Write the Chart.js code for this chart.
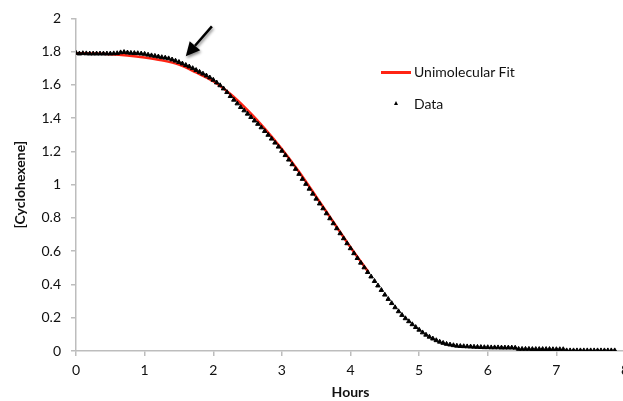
<!DOCTYPE html>
<html lang="en">
<head>
    <meta charset="UTF-8">
    <title>Cyclohexene vs Hours</title>
    <script src="https://cdn.jsdelivr.net/npm/chart.js"></script>
    <style>
        html, body { margin: 0; padding: 0; background: #fff; overflow: hidden; }
        #wrap { position: relative; width: 623px; height: 401px; overflow: hidden; }
        #chart { position: absolute; left: 0; top: 0; }
        .legend-text { position: absolute; font: 14px Lato, sans-serif; color: #111; line-height: 18px; white-space: nowrap; }
        .legend-line { position: absolute; left: 381px; top: 71px; width: 30px; height: 2.5px; background: #ff2414; }
        .legend-tri { position: absolute; left: 394px; top: 101px; width: 0; height: 0;
            border-left: 2.5px solid transparent; border-right: 2.5px solid transparent; border-bottom: 4.5px solid #000; }
    </style>
</head>
<body>
<div id="wrap">
    <canvas id="chart" width="645" height="401"></canvas>
    <div class="legend-line"></div>
    <div class="legend-text" style="left:414px; top:63px;">Unimolecular Fit</div>
    <div class="legend-tri"></div>
    <div class="legend-text" style="left:414px; top:95px;">Data</div>
</div>
<script>
    // measured points (hours, concentration)
    const dataHours = [
        0.00, 0.05, 0.10, 0.15, 0.20, 0.25, 0.30, 0.35, 0.40, 0.45,
        0.50, 0.55, 0.60, 0.65, 0.70, 0.75, 0.80, 0.85, 0.90, 0.95,
        1.00, 1.05, 1.10, 1.15, 1.20, 1.25, 1.30, 1.35, 1.40, 1.45,
        1.50, 1.55, 1.60, 1.65, 1.70, 1.75, 1.80, 1.85, 1.90, 1.95,
        2.00, 2.05, 2.10, 2.15, 2.20, 2.25, 2.30, 2.35, 2.40, 2.45,
        2.50, 2.55, 2.60, 2.65, 2.70, 2.75, 2.80, 2.85, 2.90, 2.95,
        3.00, 3.05, 3.10, 3.15, 3.20, 3.25, 3.30, 3.35, 3.40, 3.45,
        3.50, 3.55, 3.60, 3.65, 3.70, 3.75, 3.80, 3.85, 3.90, 3.95,
        4.00, 4.05, 4.10, 4.15, 4.20, 4.25, 4.30, 4.35, 4.40, 4.45,
        4.50, 4.55, 4.60, 4.65, 4.70, 4.75, 4.80, 4.85, 4.90, 4.95,
        5.00, 5.05, 5.10, 5.15, 5.20, 5.25, 5.30, 5.35, 5.40, 5.45,
        5.50, 5.55, 5.60, 5.65, 5.70, 5.75, 5.80, 5.85, 5.90, 5.95,
        6.00, 6.05, 6.10, 6.15, 6.20, 6.25, 6.30, 6.35, 6.40, 6.45,
        6.50, 6.55, 6.60, 6.65, 6.70, 6.75, 6.80, 6.85, 6.90, 6.95,
        7.00, 7.05, 7.10, 7.15, 7.20, 7.25, 7.30, 7.35, 7.40, 7.45,
        7.50, 7.55, 7.60, 7.65, 7.70, 7.75, 7.80, 7.85
    ];
    const dataConc = [
        1.792, 1.788, 1.790, 1.789, 1.788, 1.788, 1.788, 1.788, 1.788, 1.788,
        1.788, 1.789, 1.790, 1.795, 1.797, 1.794, 1.792, 1.791, 1.790, 1.788,
        1.786, 1.781, 1.777, 1.774, 1.770, 1.766, 1.763, 1.759, 1.752, 1.745,
        1.737, 1.728, 1.719, 1.710, 1.700, 1.689, 1.678, 1.667, 1.656, 1.644,
        1.630, 1.614, 1.597, 1.578, 1.556, 1.532, 1.510, 1.488, 1.466, 1.446,
        1.426, 1.406, 1.385, 1.365, 1.344, 1.322, 1.299, 1.276, 1.252, 1.228,
        1.203, 1.177, 1.150, 1.122, 1.094, 1.064, 1.034, 1.004, 0.975, 0.945,
        0.915, 0.886, 0.857, 0.827, 0.797, 0.767, 0.737, 0.707, 0.677, 0.647,
        0.617, 0.587, 0.558, 0.530, 0.502, 0.474, 0.447, 0.420, 0.393, 0.366,
        0.338, 0.312, 0.287, 0.262, 0.238, 0.216, 0.196, 0.178, 0.160, 0.143,
        0.127, 0.111, 0.097, 0.085, 0.074, 0.064, 0.055, 0.048, 0.042, 0.038,
        0.034, 0.031, 0.029, 0.028, 0.027, 0.026, 0.025, 0.024, 0.023, 0.022,
        0.022, 0.021, 0.021, 0.021, 0.020, 0.020, 0.020, 0.020, 0.019, 0.012,
        0.012, 0.012, 0.012, 0.011, 0.011, 0.011, 0.011, 0.011, 0.011, 0.010,
        0.010, 0.010, 0.010, 0.003, 0.003, 0.003, 0.003, 0.003, 0.003, 0.003,
        0.003, 0.003, 0.003, 0.003, 0.003, 0.003, 0.003, 0.003
    ];

    // unimolecular fit curve
    const fitHours = [0, 0.25, 0.5, 0.75, 1.0, 1.25, 1.5, 1.75, 2.0, 2.25, 2.5, 2.75, 3.0, 3.25, 3.5, 3.75, 4.0, 4.26];
    const fitConc  = [1.790, 1.789, 1.785, 1.777, 1.765, 1.748, 1.722, 1.675, 1.622, 1.545, 1.448, 1.338, 1.215, 1.078, 0.928, 0.776, 0.624, 0.475];

    const xTicks = [0, 1, 2, 3, 4, 5, 6, 7, 8];
    const yTicks = [0, 0.2, 0.4, 0.6, 0.8, 1, 1.2, 1.4, 1.6, 1.8, 2];

    // arrow pointing at the early deviation, in data units
    const arrowTail = { x: 1.98, y: 1.952 };
    const arrowTip  = { x: 1.60, y: 1.772 };

    const axisGray = "#bdbdbd";
    const textColor = "#111";
    const tickFont = { family: "Lato", size: 14 };
    const titleFont = { family: "Lato", size: 14, weight: "bold" };

    const arrowPlugin = {
        id: "arrow",
        afterDatasetsDraw(chart) {
            const ctx = chart.ctx;
            const xs = chart.scales.x, ys = chart.scales.y;
            const x1 = xs.getPixelForValue(arrowTail.x), y1 = ys.getPixelForValue(arrowTail.y);
            const x2 = xs.getPixelForValue(arrowTip.x), y2 = ys.getPixelForValue(arrowTip.y);
            const ang = Math.atan2(y2 - y1, x2 - x1);
            const headLen = 14, headHalf = 7;
            const bx = x2 - headLen * Math.cos(ang), by = y2 - headLen * Math.sin(ang);
            ctx.save();
            ctx.shadowColor = "rgba(0,0,0,0.45)";
            ctx.shadowBlur = 3;
            ctx.shadowOffsetX = 1;
            ctx.shadowOffsetY = 2;
            ctx.strokeStyle = "#000";
            ctx.fillStyle = "#000";
            ctx.lineWidth = 2.5;
            ctx.beginPath();
            ctx.moveTo(x1, y1);
            ctx.lineTo(bx, by);
            ctx.stroke();
            ctx.beginPath();
            ctx.moveTo(x2, y2);
            ctx.lineTo(bx + headHalf * Math.sin(ang), by - headHalf * Math.cos(ang));
            ctx.lineTo(bx - headHalf * Math.sin(ang), by + headHalf * Math.cos(ang));
            ctx.closePath();
            ctx.fill();
            ctx.restore();
        }
    };

    const ctx = document.getElementById("chart").getContext("2d");
    new Chart(ctx, {
        type: "scatter",
        data: {
            datasets: [
                {
                    label: "Data",
                    data: dataHours.map((h, i) => ({ x: h, y: dataConc[i] })),
                    pointStyle: "triangle",
                    pointRadius: 2.6,
                    pointBackgroundColor: "#000",
                    pointBorderColor: "#000",
                    pointBorderWidth: 1,
                    showLine: false,
                    order: 1
                },
                {
                    label: "Unimolecular Fit",
                    data: fitHours.map((h, i) => ({ x: h, y: fitConc[i] })),
                    showLine: true,
                    borderColor: "#ff2414",
                    borderWidth: 2.5,
                    pointRadius: 0,
                    cubicInterpolationMode: "monotone",
                    order: 2
                }
            ]
        },
        options: {
            responsive: false,
            animation: false,
            layout: { padding: { top: 18, right: 20, left: 0, bottom: 0 } },
            plugins: { legend: { display: false }, tooltip: { enabled: false } },
            scales: {
                x: {
                    type: "linear",
                    min: 0,
                    max: 8,
                    afterBuildTicks: s => { s.ticks = xTicks.map(v => ({ value: v })); },
                    afterFit: s => { s.height = 50; },
                    ticks: { font: tickFont, color: textColor, padding: 6, maxRotation: 0 },
                    grid: { drawOnChartArea: false, drawTicks: true, tickLength: 5, color: axisGray, lineWidth: 1.5 },
                    border: { color: axisGray, width: 1.5 },
                    title: { display: true, text: "Hours", font: titleFont, color: textColor, padding: { top: 0, bottom: 0 } }
                },
                y: {
                    min: 0,
                    max: 2,
                    afterBuildTicks: s => { s.ticks = yTicks.map(v => ({ value: v })); },
                    afterFit: s => { s.width = 76; },
                    ticks: { font: tickFont, color: textColor, padding: 10, callback: v => String(+v.toFixed(1)) },
                    grid: { drawOnChartArea: false, drawTicks: true, tickLength: 5, color: axisGray, lineWidth: 1.5 },
                    border: { color: axisGray, width: 1.5 },
                    title: { display: true, text: "[Cyclohexene]", font: titleFont, color: textColor, padding: { top: 12, bottom: 0 } }
                }
            }
        },
        plugins: [arrowPlugin]
    });
</script>
</body>
</html>
